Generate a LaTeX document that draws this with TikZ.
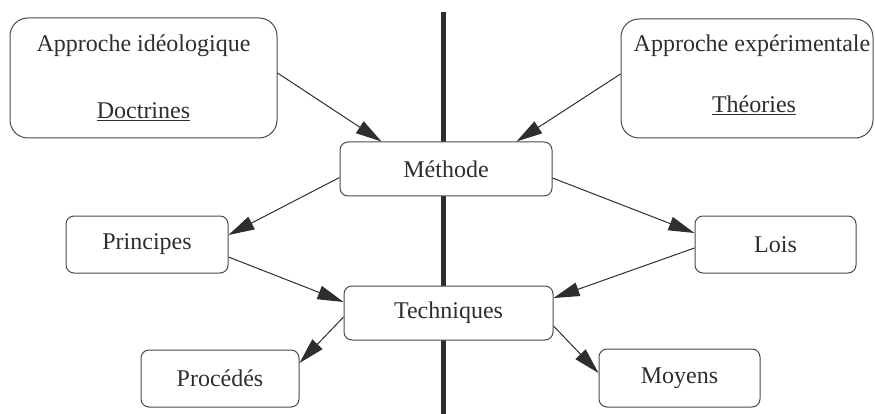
\documentclass[tikz,border=0pt]{standalone}
\usepackage{fontspec}
\setmainfont{Liberation Serif}
\usetikzlibrary{arrows.meta}
\definecolor{inkgray}{HTML}{2E2E2E}
\definecolor{boxgray}{HTML}{4A4A4A}
\begin{document}
\begin{tikzpicture}[x=1pt,y=-1pt,
  box/.style={draw=boxgray, line width=1pt, rounded corners=8pt, fill=white, inner sep=0pt,
    text=inkgray, font=\fontsize{24}{28}\selectfont},
  bigbox/.style={box, rounded corners=18pt},
  txt/.style={inner sep=0pt, anchor=base, text=inkgray, font=\fontsize{24}{28}\selectfont},
  arr/.style={draw=inkgray, line width=1pt, -{Triangle[length=26pt,width=14pt]}}]
\useasboundingbox (0,0) rectangle (875,414);
% vertical divider
\coordinate (vtop) at (443.5,12);
\coordinate (vbot) at (443.5,414);
\draw[inkgray, line width=4.5pt] (vtop) -- (vbot);
% boxes
\node[bigbox, minimum width=267pt, minimum height=120pt] (ideo) at (143.5,78) {};
\node[bigbox, minimum width=252pt, minimum height=119pt] (exp) at (747,78.5) {};
\node[txt] (ideoA) at (143.5,52) {Approche idéologique};
\node[txt] (ideoB) at (143.5,119) {\underline{Doctrines}};
\node[txt] (expA) at (752,52) {Approche expérimentale};
\node[txt] (expB) at (754,113) {\underline{Théories}};
\node[box, minimum width=212pt, minimum height=54pt] (meth) at (446,169) {Méthode};
\node[box, minimum width=162pt, minimum height=57pt] (prin) at (147,244.5) {Principes};
\node[box, minimum width=161pt, minimum height=57pt] (lois) at (775.5,244.5) {Lois};
\node[box, minimum width=209pt, minimum height=54pt] (tech) at (448.5,313) {Techniques};
\node[box, minimum width=158pt, minimum height=57pt] (proc) at (220,378.5) {Procédés};
\node[box, minimum width=161pt, minimum height=58pt] (moy) at (679.5,378) {Moyens};
% arrows
\draw[arr] ([yshift=5pt]ideo.east) -- ([xshift=42pt]meth.north west);
\draw[arr] ([yshift=4.5pt]exp.west) -- ([xshift=-36pt]meth.north east);
\draw[arr] ([yshift=-8.5pt]meth.west) -- ([yshift=9.5pt]prin.east);
\draw[arr] ([yshift=-9pt]meth.east) -- ([yshift=11.5pt]lois.west);
\draw[arr] ([yshift=-12.5pt]prin.east) -- ([yshift=11pt]tech.west);
\draw[arr] ([yshift=-3.5pt]lois.west) -- ([yshift=15pt]tech.east);
\draw[arr] ([yshift=-4pt]tech.west) -- ([yshift=15.5pt]proc.east);
\draw[arr] ([yshift=-13pt]tech.east) -- ([yshift=5pt]moy.west);
\end{tikzpicture}
\end{document}
